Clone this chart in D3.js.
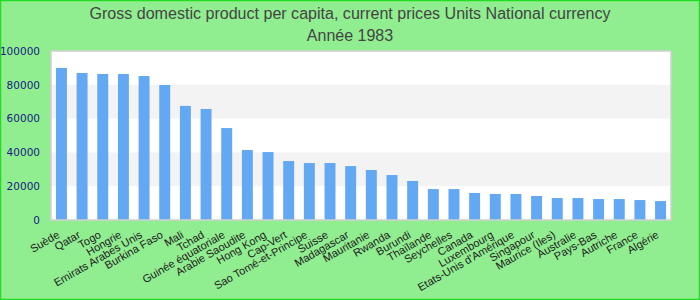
<!DOCTYPE html>
<html>
<head>
<meta charset="utf-8">
<script src="https://cdn.jsdelivr.net/npm/d3@7"></script>
<style>
  body { margin: 0; background: #fff; }
  svg { display: block; }
</style>
</head>
<body>
<svg id="chart" width="700" height="300"></svg>
<script>
'use strict';

const titleLines = ["Gross domestic product per capita, current prices Units National currency", "Année 1983"];

const countries = ["Suède", "Qatar", "Togo", "Hongrie", "Emirats Arabes Unis", "Burkina Faso", "Mali", "Tchad",
    "Guinée équatoriale", "Arabie Saoudite", "Hong Kong", "Cap-Vert", "Sao Tomé-et-Principe", "Suisse",
    "Madagascar", "Mauritanie", "Rwanda", "Burundi", "Thaïlande", "Seychelles", "Canada", "Luxembourg",
    "Etats-Unis d'Amérique", "Singapour", "Maurice (Iles)", "Australie", "Pays-Bas", "Autriche", "France", "Algérie"];

const gdpValues = [90000, 87000, 86400, 86400, 85200, 79900, 67500, 65700,
    54400, 41400, 40200, 34900, 33700, 33700,
    31900, 29600, 26600, 23100, 18300, 18300, 16000, 15400,
    15400, 14200, 13000, 13000, 12400, 12400, 11800, 11200];

const yTicks = [0, 20000, 40000, 60000, 80000, 100000];

const svg = d3.select("#chart");
const W = 700, H = 300;
const margin = {top: 51, right: 29, bottom: 80, left: 51};

// background + frame
svg.append("rect")
    .attr("x", 0.5).attr("y", 0.5)
    .attr("width", W - 1).attr("height", H - 1)
    .attr("fill", "#90ee90")
    .attr("stroke", "#22dd22")
    .attr("stroke-width", 1.5);

// titles
svg.selectAll(".title")
    .data(titleLines)
    .enter()
    .append("text")
    .attr("class", "title")
    .attr("x", W / 2)
    .attr("y", (d, i) => 19 + i * 22)
    .attr("text-anchor", "middle")
    .attr("font-family", "Liberation Sans, Arial, sans-serif")
    .attr("font-size", "16px")
    .attr("fill", "#444")
    .attr("textLength", (d, i) => i === 0 ? 521 : null)
    .attr("lengthAdjust", "spacingAndGlyphs")
    .text(d => d);

const x = d3.scaleBand()
    .domain(countries)
    .range([margin.left, W - margin.right])
    .paddingInner(0.47)
    .paddingOuter(0.24);

const y = d3.scaleLinear()
    .domain([0, 100000])
    .range([H - margin.bottom, margin.top]);

// plot area with alternating bands
const plot = svg.append("g");
plot.append("rect")
    .attr("x", margin.left).attr("y", margin.top)
    .attr("width", W - margin.left - margin.right)
    .attr("height", H - margin.top - margin.bottom)
    .attr("fill", "#fff");

const bands = d3.pairs(yTicks).filter((p, i) => i % 2 === 1);
plot.selectAll(".band")
    .data(bands)
    .enter()
    .append("rect")
    .attr("class", "band")
    .attr("x", margin.left)
    .attr("y", d => y(d[1]))
    .attr("width", W - margin.left - margin.right)
    .attr("height", d => y(d[0]) - y(d[1]))
    .attr("fill", "#f3f3f3");

// bars
plot.selectAll(".bar")
    .data(countries)
    .enter()
    .append("rect")
    .attr("class", "bar")
    .attr("x", d => x(d))
    .attr("y", (d, i) => y(gdpValues[i]))
    .attr("width", x.bandwidth())
    .attr("height", (d, i) => y(0) - y(gdpValues[i]))
    .attr("fill", "#62a8f2");

// frame of plot area
plot.append("rect")
    .attr("x", margin.left).attr("y", margin.top)
    .attr("width", W - margin.left - margin.right)
    .attr("height", H - margin.top - margin.bottom)
    .attr("fill", "none")
    .attr("stroke", "#d0d0d0")
    .attr("stroke-width", 1.5);

// y axis
const yAxis = svg.append("g")
    .attr("transform", `translate(${margin.left},0)`)
    .call(d3.axisLeft(y).tickValues(yTicks).tickSize(0).tickPadding(11).tickFormat(d3.format("d")));
yAxis.select(".domain").remove();
yAxis.selectAll("text")
    .attr("font-family", "DejaVu Sans, sans-serif")
    .attr("font-size", "10.5px")
    .attr("fill", "#1a1a80");

// x axis labels
const xAxis = svg.append("g")
    .attr("transform", `translate(0,${H - margin.bottom})`)
    .call(d3.axisBottom(x).tickSize(0).tickPadding(0));
xAxis.select(".domain").remove();
xAxis.selectAll("text")
    .attr("font-family", "Liberation Sans, Arial, sans-serif")
    .attr("font-size", "11px")
    .attr("fill", "#222")
    .attr("text-anchor", "end")
    .attr("dy", null)
    .attr("transform", "translate(-1,17) rotate(-30)");
</script>
</body>
</html>
